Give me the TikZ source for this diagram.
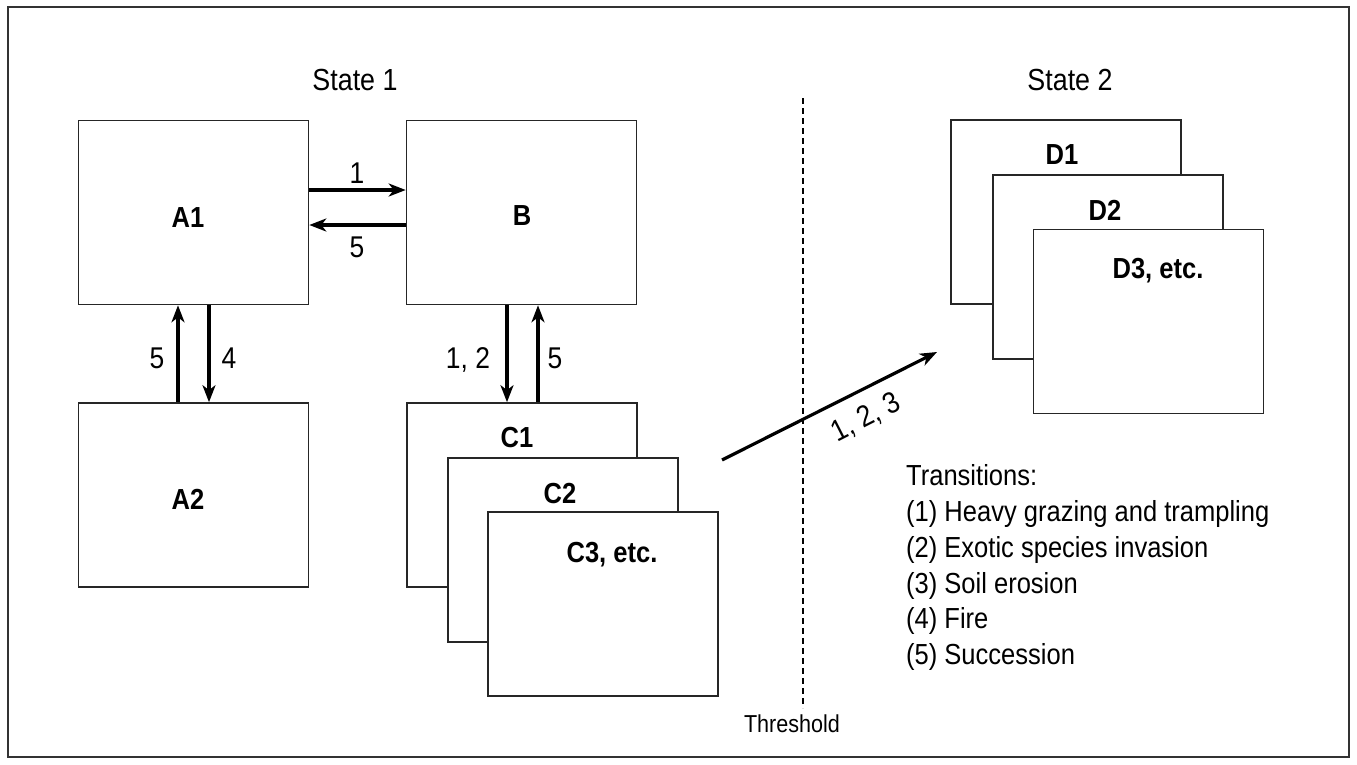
\documentclass[tikz,border=0pt]{standalone}
\usepackage{fontspec}
\setmainfont{Liberation Sans}[FakeStretch=0.88]
\usetikzlibrary{arrows.meta,calc}
\tikzset{
  statebox/.style={draw=black!85, line width=1.6pt, fill=white, minimum width=230pt, minimum height=184pt, inner sep=0pt},
  boxlabel/.style={anchor=base, inner sep=0pt, font=\fontsize{29}{34}\selectfont\bfseries},
  numlabel/.style={anchor=base, inner sep=0pt, font=\fontsize{30}{36}\selectfont},
  titlelabel/.style={anchor=base, inner sep=0pt, font=\fontsize{30.5}{36}\selectfont},
  legendline/.style={anchor=base west, inner sep=0pt, font=\fontsize{29}{35}\selectfont},
  arr/.style={line width=3.2pt, -{Stealth[length=17pt,width=13pt,inset=5pt]}},
  frame/.style={draw=black!80, line width=1.6pt}
}
\begin{document}
\begin{tikzpicture}[x=1pt,y=-1pt]
\useasboundingbox (0,0) rectangle (1357,764);
\draw[frame] (8,7) rectangle (1349,757);

% titles
\node[titlelabel] (s1) at (355,90) {State 1};
\node[titlelabel] (s2) at (1070,90) {State 2};

% state 1 boxes
\node[statebox] (A1) at (193.5,212.5) {};
\node[boxlabel] (A1t) at (188,227) {A1};
\node[statebox] (B) at (521.5,212.5) {};
\node[boxlabel] (Bt) at (522,225) {B};
\node[statebox] (A2) at (193.5,495) {};
\node[boxlabel] (A2t) at (188,509) {A2};

\node[statebox] (C1) at (522,495) {};
\node[boxlabel] (C1t) at (517,447) {C1};
\node[statebox] (C2) at (563,550) {};
\node[boxlabel] (C2t) at (560,503) {C2};
\node[statebox] (C3) at (603,604) {};
\node[boxlabel] (C3t) at (612,562) {C3, etc.};

% state 2 boxes
\node[statebox] (D1) at (1066,212) {};
\node[boxlabel] (D1t) at (1062,164) {D1};
\node[statebox] (D2) at (1108,267) {};
\node[boxlabel] (D2t) at (1105,220) {D2};
\node[statebox] (D3) at (1148.5,321.5) {};
\node[boxlabel] (D3t) at (1158,278) {D3, etc.};

% A1 <-> B
\draw[arr] ([yshift=22.5pt]A1.east) -- ([yshift=22.5pt]B.west);
\draw[arr] ([yshift=-12.5pt]B.west) -- ([yshift=-12.5pt]A1.east);
\node[numlabel] (l1) at (357,183) {1};
\node[numlabel] (l5a) at (357,257) {5};

% A1 <-> A2
\draw[arr] ([xshift=-15.5pt]A2.north) -- ([xshift=-15.5pt]A1.south);
\draw[arr] ([xshift=15.5pt]A1.south) -- ([xshift=15.5pt]A2.north);
\node[numlabel] (l5b) at (157,368) {5};
\node[numlabel] (l4) at (229,368) {4};

% B <-> C1
\draw[arr] ([xshift=-14.5pt]B.south) -- ([xshift=-14.5pt]B.south |- C1.north);
\draw[arr] ([xshift=16.5pt]B.south |- C1.north) -- ([xshift=16.5pt]B.south);
\node[numlabel] (l12) at (468,368) {1, 2};
\node[numlabel] (l5c) at (555,368) {5};

% threshold
\coordinate (thtop) at (803,98);
\node[anchor=base, inner sep=0pt, font=\fontsize{24.5}{30}\selectfont] (th) at (792,732) {Threshold};
\draw[line width=1.4pt, dash pattern=on 6pt off 4pt] (thtop) -- (thtop |- 0,708);

% long arrow
\coordinate (ls) at (722,460);
\coordinate (le) at (937,352);
\draw[arr] (ls) -- (le);
\node[numlabel, anchor=center, rotate=27] (l123) at (866,418) {1, 2, 3};

% legend
\node[legendline] (t0) at (906,485) {Transitions:};
\node[legendline] (t1) at (906,521) {(1) Heavy grazing and trampling};
\node[legendline] (t2) at (906,557) {(2) Exotic species invasion};
\node[legendline] (t3) at (906,593) {(3) Soil erosion};
\node[legendline] (t4) at (906,628) {(4) Fire};
\node[legendline] (t5) at (906,664) {(5) Succession};
\end{tikzpicture}
\end{document}
